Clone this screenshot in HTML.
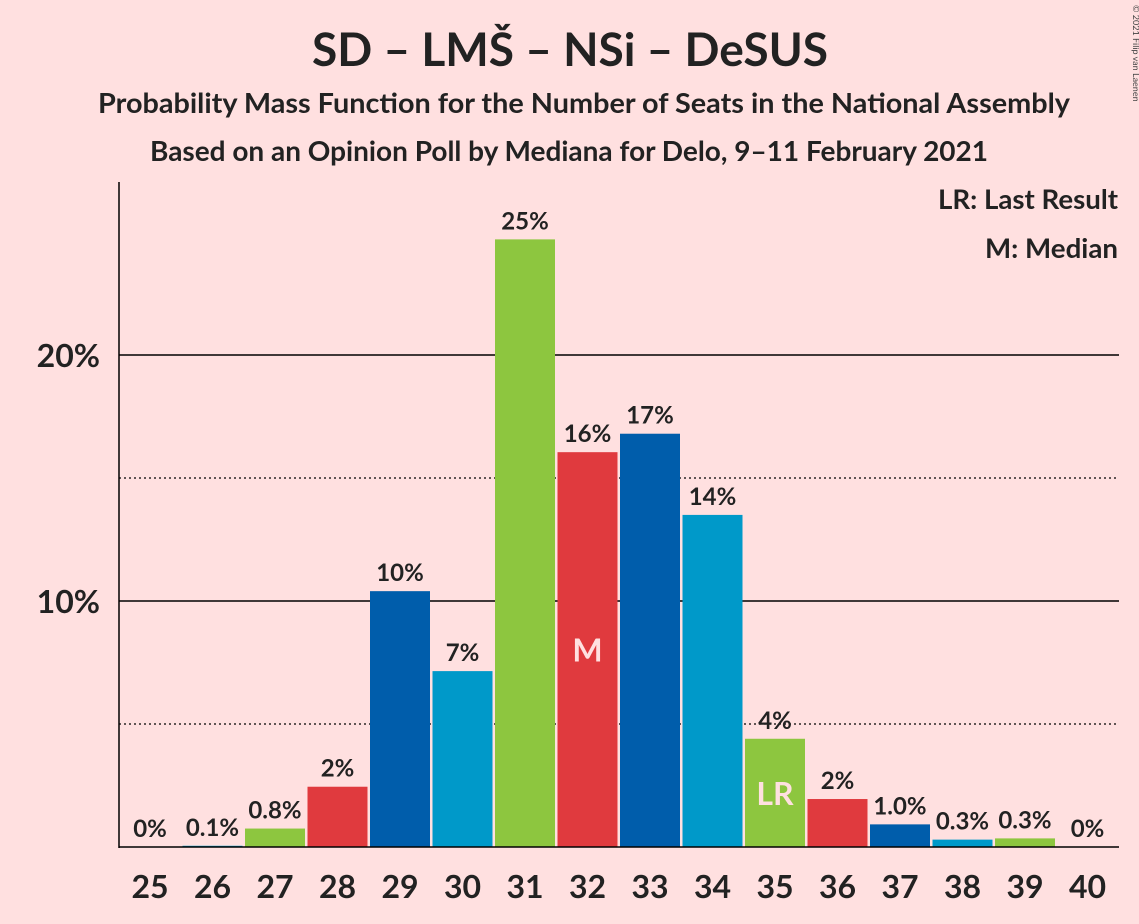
<!DOCTYPE html>
<html><head><meta charset="utf-8"><style>
body{margin:0;background:#ffe0e0;}
svg{display:block;font-family:"Lato","Liberation Sans",sans-serif;}
</style></head><body>
<svg id="c" width="1139" height="924" viewBox="0 0 1139 924">
<rect width="1139" height="924" fill="#ffe0e0"/>
<text x="570" y="66" text-anchor="middle" font-size="46" font-weight="bold" fill="#222" textLength="516" lengthAdjust="spacingAndGlyphs">SD – LMŠ – NSi – DeSUS</text>
<text x="584" y="113" text-anchor="middle" font-size="28" font-weight="bold" fill="#222" textLength="972" lengthAdjust="spacingAndGlyphs">Probability Mass Function for the Number of Seats in the National Assembly</text>
<text x="569" y="161" text-anchor="middle" font-size="28" font-weight="bold" fill="#222" textLength="838" lengthAdjust="spacingAndGlyphs">Based on an Opinion Poll by Mediana for Delo, 9–11 February 2021</text>
<text x="1118" y="209" text-anchor="end" font-size="27" font-weight="bold" fill="#222" textLength="180" lengthAdjust="spacingAndGlyphs">LR: Last Result</text>
<text x="1118" y="258" text-anchor="end" font-size="27" font-weight="bold" fill="#222" textLength="133" lengthAdjust="spacingAndGlyphs">M: Median</text>
<text x="1133" y="5" font-size="9" fill="#444" transform="rotate(90 1133 5)">© 2021 Filip van Laenen</text>
<g id="grid"></g><g id="bars"></g>
</svg>
<script>
const seats=[25,26,27,28,29,30,31,32,33,34,35,36,37,38,39,40];
const probs=[0,0.05,0.75,2.45,10.4,7.15,24.7,16.05,16.8,13.5,4.4,1.95,0.92,0.3,0.35,0];
const valueLabels=["0%","0.1%","0.8%","2%","10%","7%","25%","16%","17%","14%","4%","2%","1.0%","0.3%","0.3%","0%"];
const yTicks=[5,10,15,20];
const medianSeat=32, lastResultSeat=35;
const colors=["#005dab","#0099c9","#8dc63f","#e03a3e"];
const ns="http://www.w3.org/2000/svg";
const y=v=>847-v*24.6;
const x=s=>150+(s-25)*62.5;
function mk(t,a,p,txt){const e=document.createElementNS(ns,t);for(const k in a)e.setAttribute(k,a[k]);if(txt!=null)e.textContent=txt;p.appendChild(e);return e;}
const g=document.getElementById('grid'),b=document.getElementById('bars');
yTicks.forEach(t=>{
 const major=t%10===0;
 const l=mk('line',{x1:119,x2:1119,y1:y(t),y2:y(t),stroke:'#000','stroke-width':major?1.5:1.2,'stroke-dasharray':major?'':'2,3'},g);
 
 
 if(major){const tx=mk('text',{x:100,y:y(t)+12,'text-anchor':'end','font-size':32,'font-weight':'bold',fill:'#222'},g,t+'%');
 
 }
});
seats.forEach((s,i)=>{
 const h=probs[i]*24.6;
 const r=mk('rect',{x:x(s)-30,y:847-h,width:60,height:h,fill:colors[(s-25)%4]},b);
 
 
 const vl=mk('text',{x:x(s),y:847-h-10,'text-anchor':'middle','font-size':24,'font-weight':'bold',fill:'#222'},b,valueLabels[i]);
 
 
 const xl=mk('text',{x:x(s),y:898,'text-anchor':'middle','font-size':32,'font-weight':'bold',fill:'#222'},b,String(s));
 
 
 if(s===medianSeat){const m=mk('text',{x:x(s),y:847-h/2+12,'text-anchor':'middle','font-size':32,'font-weight':'bold',fill:'#ffe0e0'},b,'M');
 
 }
 if(s===lastResultSeat){const m=mk('text',{x:x(s),y:847-h/2+12,'text-anchor':'middle','font-size':32,'font-weight':'bold',fill:'#ffe0e0'},b,'LR');
 
 }
});
const ax=mk('line',{x1:119,x2:119,y1:182,y2:848,stroke:'#000','stroke-width':1.5},b);


const bx=mk('line',{x1:119,x2:1119,y1:847,y2:847,stroke:'#000','stroke-width':1.5},b);


</script>
</body></html>
